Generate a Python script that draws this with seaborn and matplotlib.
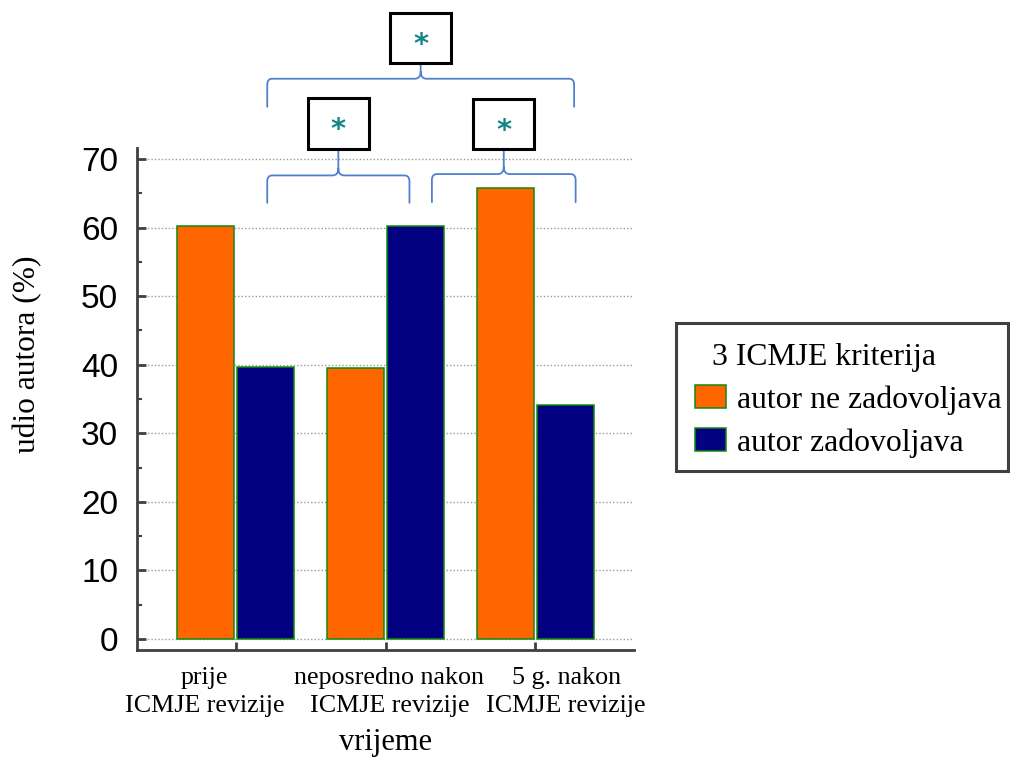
import matplotlib
matplotlib.use("Agg")
import matplotlib.pyplot as plt
import matplotlib.transforms as mtransforms
from matplotlib.path import Path
from matplotlib.patches import PathPatch, Rectangle
import seaborn as sns
import pandas as pd

# ---------------- data ----------------
periods = ["prije\nICMJE revizije",
           "neposredno nakon\nICMJE revizije",
           "5 g. nakon\nICMJE revizije"]
series_names = ["autor ne zadovoljava", "autor zadovoljava"]
ne_zadovoljava = [60.2, 39.5, 65.8]
zadovoljava = [39.7, 60.2, 34.1]
y_ticks = [0, 10, 20, 30, 40, 50, 60, 70]
y_minor = [5, 15, 25, 35, 45, 55, 65]
legend_title = "3 ICMJE kriterija"
x_title = "vrijeme"
y_title = "udio autora (%)"
# significance brackets: (x start, x end) in category units, and mark
bracket_spans = [(0.21, 1.16), (1.31, 2.27), (0.21, 2.26)]
bracket_marks = ["*", "*", "*"]

df = pd.DataFrame({
    "vrijeme": periods * 2,
    "grupa": [series_names[0]] * len(periods) + [series_names[1]] * len(periods),
    "udio": ne_zadovoljava + zadovoljava,
})

sns.set_theme(style="white")
plt.rcParams["font.family"] = ["Liberation Serif", "DejaVu Serif"]
plt.rcParams["text.color"] = "black"
plt.rcParams["axes.labelcolor"] = "black"
plt.rcParams["xtick.labelcolor"] = "black"
plt.rcParams["ytick.labelcolor"] = "black"

fig = plt.figure(figsize=(10.1, 7.61), dpi=100)
ax = fig.add_axes([137 / 1010, 1 - 650 / 761, 497 / 1010, 502 / 761])

sns.barplot(data=df, x="vrijeme", y="udio", hue="grupa",
            palette=["#FF6600", "#000080"], edgecolor="#108a10",
            linewidth=1.1, gap=0.05, errorbar=None, saturation=1, ax=ax)
handles, labels = ax.get_legend_handles_labels()
if ax.get_legend() is not None:
    ax.get_legend().remove()

ax.set_xlim(-0.66, 2.66)
ax.set_ylim(-1.6, 71.6)
ax.set_yticks(y_ticks)
ax.set_yticks(y_minor, minor=True)
ax.yaxis.grid(True, which="major", linestyle=(0, (1, 1.5)), color="#9a9a9a", linewidth=1)
ax.xaxis.grid(False)
ax.set_axisbelow(True)

for s in ["top", "right"]:
    ax.spines[s].set_visible(False)
for s in ["left", "bottom"]:
    ax.spines[s].set_color("#404040")
    ax.spines[s].set_linewidth(2)

ax.tick_params(axis="y", which="major", direction="in", length=6.5, width=2,
               color="#404040", pad=13.5, labelsize=24, left=True, labelcolor="black")
ax.tick_params(axis="y", which="minor", direction="in", length=3.6, width=1.5,
               color="#404040", left=True)
ax.tick_params(axis="x", which="major", direction="in", length=6, width=2,
               color="#404040", pad=12, labelsize=18.7, bottom=True, labelcolor="black")

ax.set_xticks(range(len(periods)))
ax.set_xticklabels(periods, multialignment="center", linespacing=1.37)
for lab in ax.get_yticklabels():
    lab.set_fontfamily("Liberation Sans")

label_shift_px = [-31, 4, 31]
for lab, dx in zip(ax.get_xticklabels(), label_shift_px):
    lab.set_transform(lab.get_transform() +
                      mtransforms.ScaledTranslation(dx / 100, 0, fig.dpi_scale_trans))

ax.set_xlabel(x_title, fontsize=22)
ax.xaxis.set_label_coords(0.5, -0.156)
ax.set_ylabel(y_title, fontsize=22.6)
ax.yaxis.set_label_coords(-0.19, 0.59)

# ---------------- legend ----------------
leg = ax.legend(handles, labels, title=legend_title, loc="upper left",
                bbox_to_anchor=(695 / 1010, 1 - 343 / 761),
                bbox_transform=fig.transFigure, borderaxespad=0, borderpad=0,
                frameon=False,
                prop={"family": "Liberation Serif", "size": 22.9},
                title_fontproperties={"family": "Liberation Serif", "size": 22.9},
                handlelength=0.97, handleheight=0.72, handletextpad=0.35,
                labelspacing=0.42, alignment="left")
t = leg.get_title()
t.set_color("black")
t.set_transform(t.get_transform() +
                mtransforms.ScaledTranslation(17 / 100, 0, fig.dpi_scale_trans))
fig.add_artist(Rectangle((676 / 1010, 1 - 471 / 761), 332 / 1010, 148 / 761,
                         transform=fig.transFigure, fill=False,
                         edgecolor="#404040", linewidth=2.2))

# ---------------- significance brackets ----------------
px_x = 1 / 150.0
px_y = 70 / 480.0
levels = [(63.6, 67.6, 71.5, 78.9), (63.7, 67.8, 71.4, 78.8), (77.6, 81.7, 84.0, 91.3)]
brace_color = "#5080d0"


def brace(x0, x1, yend, yh, ycusp):
    xm = (x0 + x1) / 2
    cdx, cdy = 5 * px_x, 6 * px_y
    mdx, mdy = 6 * px_x, 7 * px_y
    verts = [(x0, yend), (x0, yh - cdy), (x0, yh), (x0 + cdx, yh),
             (xm - mdx, yh), (xm, yh), (xm, yh + mdy), (xm, ycusp),
             (xm, yh + mdy), (xm, yh), (xm + mdx, yh),
             (x1 - cdx, yh), (x1, yh), (x1, yh - cdy), (x1, yend)]
    codes = [Path.MOVETO, Path.LINETO, Path.CURVE3, Path.CURVE3,
             Path.LINETO, Path.CURVE3, Path.CURVE3, Path.LINETO,
             Path.MOVETO, Path.CURVE3, Path.CURVE3,
             Path.LINETO, Path.CURVE3, Path.CURVE3, Path.LINETO]
    p = PathPatch(Path(verts, codes), facecolor="none", edgecolor=brace_color,
                  linewidth=1.3, clip_on=False, capstyle="round")
    ax.add_patch(p)
    return xm


box_w = 61 * px_x
for (x0, x1), (yend, yh, ycusp, ytop), mark in zip(bracket_spans, levels, bracket_marks):
    xm = brace(x0, x1, yend, yh, ycusp)
    ax.add_patch(Rectangle((xm - box_w / 2, ycusp), box_w, ytop - ycusp,
                           facecolor="white", edgecolor="black", linewidth=2.2,
                           clip_on=False))
    ax.text(xm, (ycusp + ytop) / 2 - 1.0, mark, ha="center", va="center",
            fontsize=21, fontweight="bold", color="#138585",
            family="DejaVu Sans", clip_on=False)

fig.savefig("out.png", dpi=100)
